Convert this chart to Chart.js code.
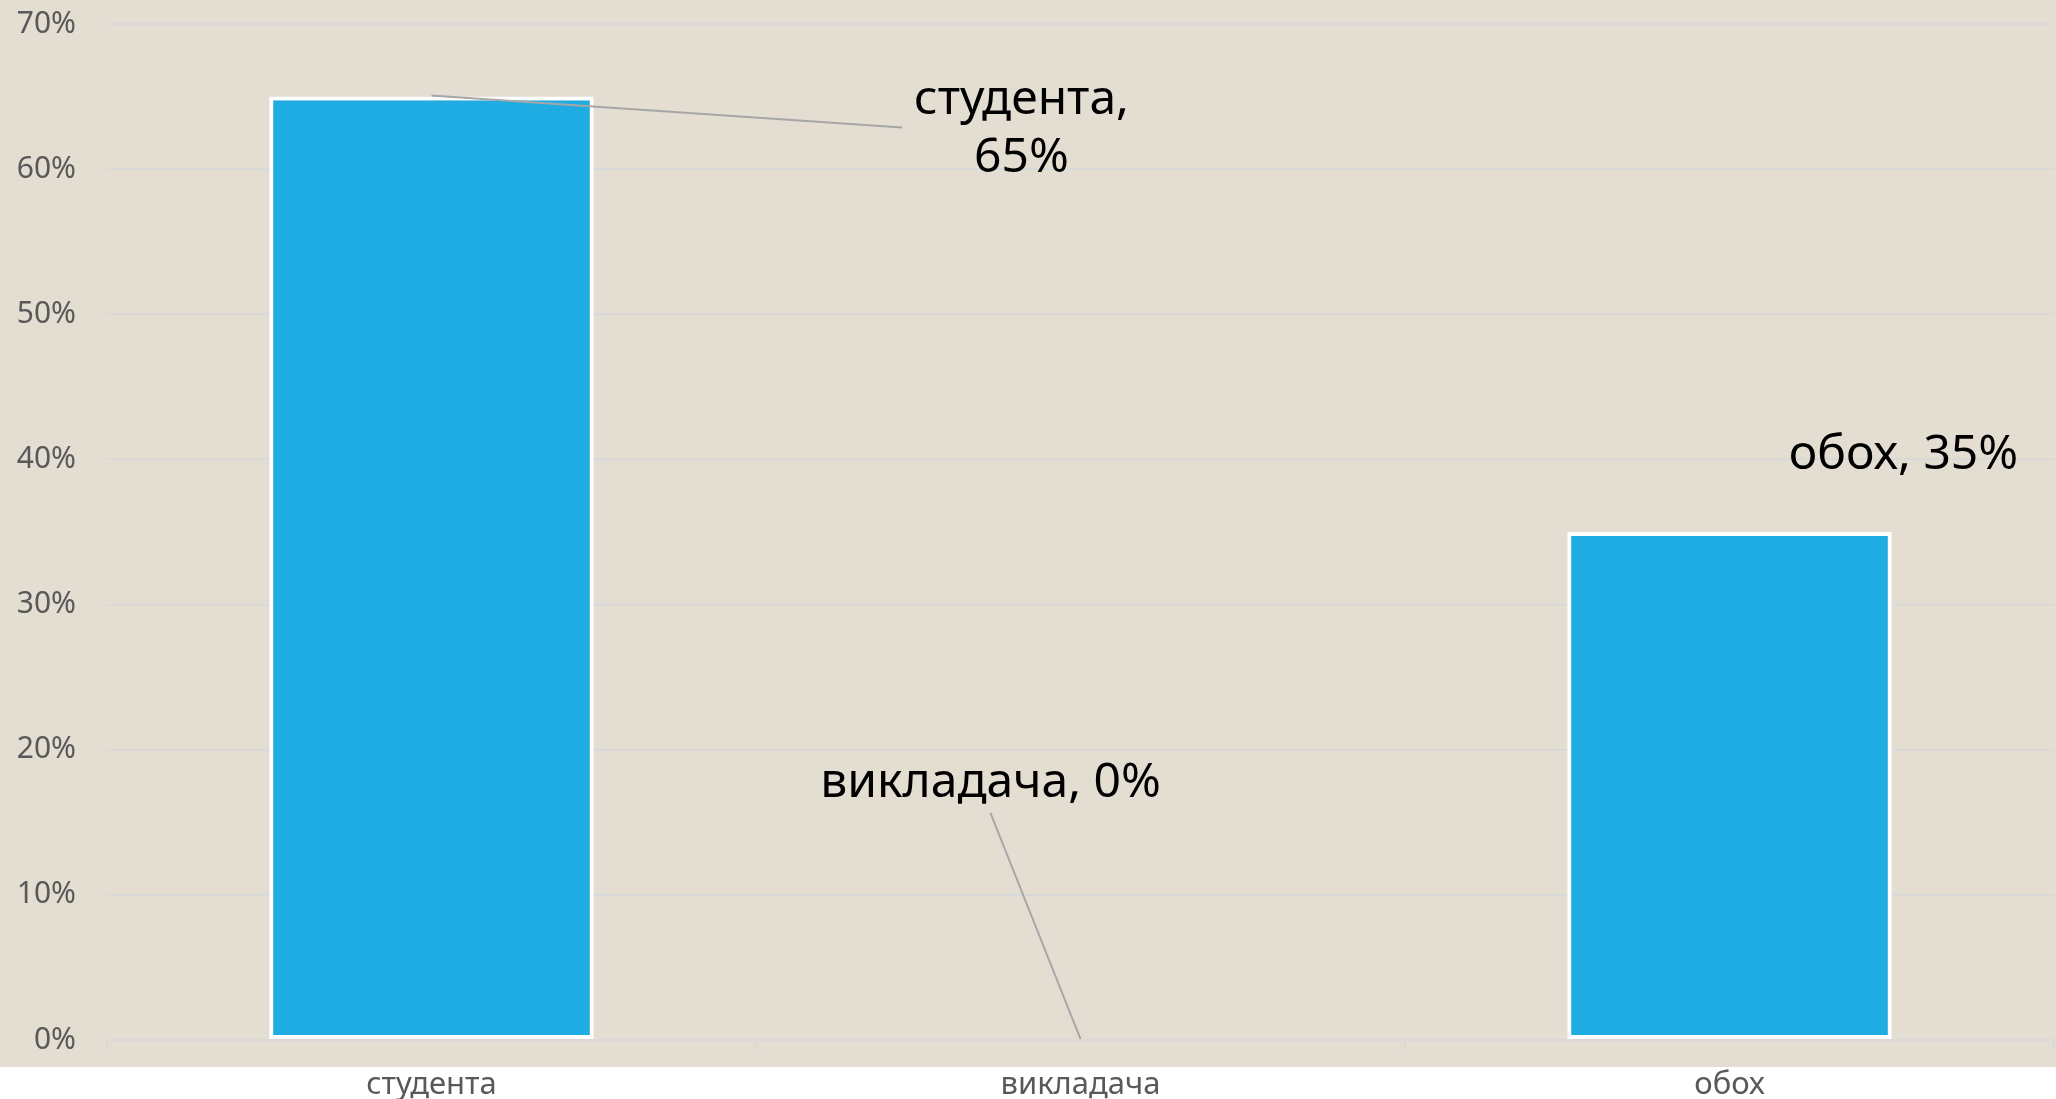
<!DOCTYPE html>
<html>
<head>
<meta charset="utf-8">
<script src="https://cdn.jsdelivr.net/npm/chart.js@4.4.1/dist/chart.umd.min.js"></script>
<style>
    html, body { margin: 0; padding: 0; background: #ffffff; }
    #wrap { width: 2056px; height: 1099px; }
</style>
</head>
<body>
<div id="wrap"><canvas id="chart"></canvas></div>
<script>
    const categories = ["студента", "викладача", "обох"];
    const shares = [65, 0, 35];
    const yTicks = [0, 10, 20, 30, 40, 50, 60, 70];

    const FONT = "'Noto Sans', sans-serif";

    // manual label placement, px offsets from each bar's top point
    const labelPlacement = [
        { lines: ["студента,", "65%"], dx: 590, dy: 33, leader: "left" },
        { lines: ["викладача, 0%"], dx: -90, dy: -257, leader: "bottom" },
        { lines: ["обох, 35%"], dx: 174, dy: -77, leader: null }
    ];

    const beigeBackground = {
        id: "beigeBackground",
        beforeDraw(chart) {
            const { ctx, chartArea } = chart;
            ctx.save();
            ctx.fillStyle = "#e3ddd2";
            ctx.fillRect(0, 0, chart.width, chartArea.bottom + 27);
            ctx.restore();
        }
    };

    const barLabels = {
        id: "barLabels",
        afterDatasetsDraw(chart) {
            const { ctx } = chart;
            const meta = chart.getDatasetMeta(0);
            const lineH = 58;
            ctx.save();
            ctx.font = `48px ${FONT}`;
            ctx.textAlign = "center";
            ctx.textBaseline = "middle";
            meta.data.forEach((bar, i) => {
                const spec = labelPlacement[i];
                const cx = bar.x + spec.dx;
                const cy = bar.y + spec.dy;
                const blockH = spec.lines.length * lineH;
                const widest = Math.max(...spec.lines.map(t => ctx.measureText(t).width));

                if (spec.leader) {
                    ctx.strokeStyle = "#a6a6a6";
                    ctx.lineWidth = 2;
                    ctx.beginPath();
                    ctx.moveTo(bar.x, bar.y - 1);
                    if (spec.leader === "left") {
                        ctx.lineTo(cx - widest / 2 - 12, cy - 2);
                    } else {
                        ctx.lineTo(cx, cy + blockH / 2 + 1);
                    }
                    ctx.stroke();
                }

                ctx.fillStyle = "#000000";
                spec.lines.forEach((t, k) => {
                    ctx.fillText(t, cx, cy - blockH / 2 + lineH * (k + 0.5));
                });
            });
            ctx.restore();
        }
    };

    new Chart(document.getElementById("chart"), {
        type: "bar",
        data: {
            labels: categories,
            datasets: [{
                data: shares,
                backgroundColor: "#1eace3",
                borderColor: "#ffffff",
                borderWidth: 4,
                borderSkipped: false,
                barPercentage: 0.5,
                categoryPercentage: 1
            }]
        },
        options: {
            responsive: true,
            maintainAspectRatio: false,
            animation: false,
            layout: {
                padding: { top: 24, right: 2, bottom: 0, left: 0 }
            },
            scales: {
                x: {
                    grid: {
                        offset: true,
                        drawOnChartArea: false,
                        drawTicks: true,
                        tickLength: 10,
                        color: "#d9d9d9",
                        lineWidth: 2
                    },
                    border: { display: true, color: "#d9d9d9", width: 2 },
                    ticks: {
                        color: "#595959",
                        font: { family: FONT, size: 31 },
                        padding: 17
                    },
                    afterFit(scale) {
                        scale.height = 59;
                        scale.paddingLeft = 0;
                        scale.paddingRight = 0;
                    }
                },
                y: {
                    min: 0,
                    max: 70,
                    afterBuildTicks(scale) {
                        scale.ticks = yTicks.map(v => ({ value: v }));
                    },
                    grid: {
                        color: "#d9d9d9",
                        lineWidth: 2,
                        drawTicks: false
                    },
                    border: { display: false },
                    ticks: {
                        color: "#595959",
                        font: { family: FONT, size: 30 },
                        padding: 31,
                        callback: v => v + "%"
                    },
                    afterFit(scale) {
                        scale.width = 107;
                        scale.paddingTop = 0;
                        scale.paddingBottom = 0;
                    }
                }
            },
            plugins: {
                legend: { display: false },
                tooltip: { enabled: false }
            }
        },
        plugins: [beigeBackground, barLabels]
    });
</script>
</body>
</html>
